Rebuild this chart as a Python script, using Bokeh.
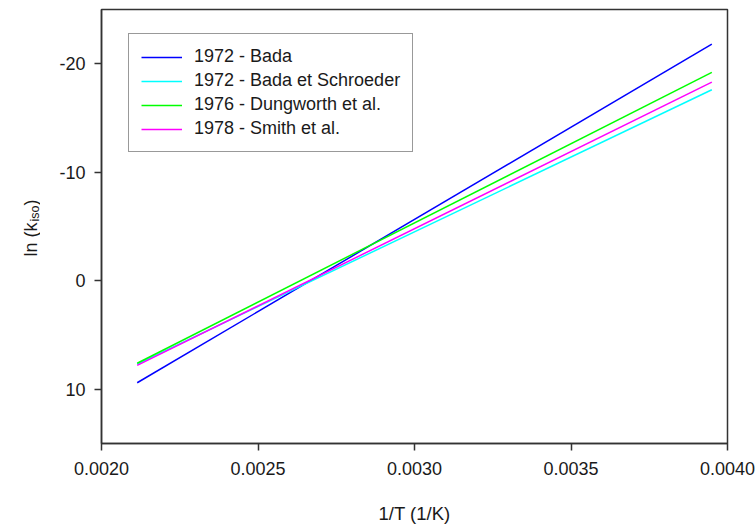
import math
from bokeh.plotting import figure
from bokeh.layouts import row
from bokeh.models import Range1d, FixedTicker, Legend, LegendItem
from bokeh.core.properties import value
from bokeh.embed import file_html
from bokeh.resources import INLINE

# ---- data ----
inv_T = [0.002114, 0.003950]          # 1/T (1/K), ends of each line
bada_1972 = [9.4, -21.8]
bada_schroeder_1972 = [7.7, -17.6]
dungworth_1976 = [7.6, -19.2]
smith_1978 = [7.8, -18.3]

series_names = ["1972 - Bada", "1972 - Bada et Schroeder",
                "1976 - Dungworth et al.", "1978 - Smith et al."]
series_values = [bada_1972, bada_schroeder_1972, dungworth_1976, smith_1978]
series_colors = ["#0000ff", "#00ffff", "#00ff00", "#ff00ff"]

x_ticks = [0.0020, 0.0025, 0.0030, 0.0035, 0.0040]
x_tick_labels = ["0.0020", "0.0025", "0.0030", "0.0035", "0.0040"]
y_ticks = [-20, -10, 0, 10]
y_tick_labels = ["-20", "-10", "0", "10"]
y_label_parts = ["ln (k", "iso", ")"]

FONT = "Liberation Sans"
FS = "18px"
TXT = "#1a1a1a"
FRAME = "#333333"
LEFT_W = 40
TOP, BOTTOM = 9, 443   # frame top / bottom in page pixels

# ---- left strip holding the y-axis title (with subscript) ----
lp = figure(width=LEFT_W, height=527, output_backend="svg", toolbar_location=None,
            x_range=Range1d(0, LEFT_W), y_range=Range1d(BOTTOM, TOP),
            x_axis_location=None, y_axis_location=None,
            min_border_left=0, min_border_right=0,
            min_border_top=TOP, min_border_bottom=527 - BOTTOM)
lp.outline_line_color = None
lp.xgrid.visible = False
lp.ygrid.visible = False
lp.background_fill_color = "white"
lp.border_fill_color = "white"
lp.text(x=[30], y=[256], text=[y_label_parts[0]], angle=math.pi / 2,
        text_font=value(FONT), text_font_size=value(FS), text_color=TXT,
        text_align="left", text_baseline="alphabetic")
lp.text(x=[34], y=[221], text=[y_label_parts[1]], angle=math.pi / 2,
        text_font=value(FONT), text_font_size=value("12.5px"), text_color=TXT,
        text_align="left", text_baseline="alphabetic")
lp.text(x=[30], y=[205], text=[y_label_parts[2]], angle=math.pi / 2,
        text_font=value(FONT), text_font_size=value(FS), text_color=TXT,
        text_align="left", text_baseline="alphabetic")

# ---- main plot ----
p = figure(width=756 - LEFT_W, height=527, output_backend="svg", toolbar_location=None,
           x_range=Range1d(0.0020, 0.0040), y_range=Range1d(15, -25),
           min_border_left=101 - LEFT_W, min_border_right=29,
           min_border_top=TOP, min_border_bottom=527 - BOTTOM)
p.background_fill_color = "white"
p.border_fill_color = "white"
p.outline_line_color = FRAME
p.outline_line_width = 1.5
p.xgrid.visible = False
p.ygrid.visible = False

renderers = []
for vals, col in zip(series_values, series_colors):
    r = p.line(inv_T, vals, line_color=col, line_width=1.5)
    renderers.append(r)

for ax in (p.xaxis[0], p.yaxis[0]):
    ax.axis_line_color = FRAME
    ax.axis_line_width = 1.5
    ax.major_tick_line_color = FRAME
    ax.major_tick_line_width = 1.5
    ax.major_tick_out = 7
    ax.major_tick_in = 0
    ax.minor_tick_line_color = None
    ax.major_label_text_font = FONT
    ax.major_label_text_font_size = FS
    ax.major_label_text_color = TXT

p.xaxis.ticker = FixedTicker(ticks=x_ticks)
p.xaxis.major_label_overrides = {t: l for t, l in zip(x_ticks, x_tick_labels)}
p.xaxis.major_label_standoff = 11
p.xaxis.axis_label = "1/T (1/K)"
p.xaxis.axis_label_text_font = FONT
p.xaxis.axis_label_text_font_size = "18.5px"
p.xaxis.axis_label_text_font_style = "normal"
p.xaxis.axis_label_text_color = TXT
p.xaxis.axis_label_standoff = 25

p.yaxis.ticker = FixedTicker(ticks=y_ticks)
p.yaxis.major_label_overrides = {t: l for t, l in zip(y_ticks, y_tick_labels)}
p.yaxis.major_label_standoff = 9

legend = Legend(items=[LegendItem(label=n, renderers=[r])
                       for n, r in zip(series_names, renderers)],
                location=(27, 291))
legend.label_text_font = FONT
legend.label_text_font_size = FS
legend.label_text_color = TXT
legend.border_line_color = FRAME
legend.border_line_width = 1.5
legend.background_fill_color = "white"
legend.background_fill_alpha = 1
legend.padding = 12
legend.margin = 0
legend.spacing = 3
legend.glyph_height = 20
legend.label_height = 20
legend.glyph_width = 41
legend.label_standoff = 12
p.add_layout(legend, "center")

layout = row(lp, p, spacing=0)
open("out.html", "w").write(file_html(layout, INLINE))
